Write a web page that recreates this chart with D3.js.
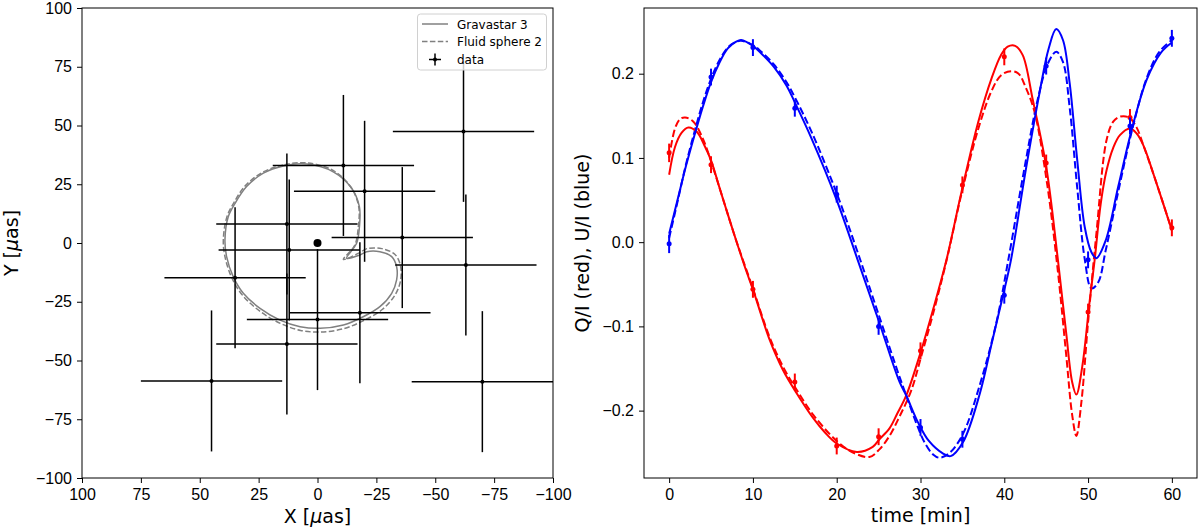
<!DOCTYPE html>
<meta charset="utf-8">
<style>
body { margin: 0; background: #fff; }
svg { font-family: "DejaVu Sans", sans-serif; }
.tick text { font-size: 16px; fill: #000; }
.tick line { stroke: #000; }
.axis-label { font-size: 19px; fill: #000; }
.legend text { font-size: 12px; fill: #000; }
</style>
<body>
<svg id="chart" width="1200" height="529"></svg>
<script src="https://cdn.jsdelivr.net/npm/d3@7"></script>
<script>

// ---- left panel: image centroid positions (x, y, xerr, yerr) in uas
var posX    = [-62, -63, -11, -20, -36, 13, 12, 13, 35, 45, 0, -18, -70];
var posY    = [47.5, -9.4, 33, 22, 2.3, 8.1, -3, -43, -14.8, -58.7, -32.6, -29.7, -59];
var posXerr = [30, 30, 30, 30, 30, 30, 30, 30, 30, 30, 30, 30, 30];
var posYerr = [30, 30, 30, 30, 30, 30, 30, 30, 30, 30, 30, 30, 30];

// model orbits (x, y) in uas
var gravOrbit = [
  [4.6, 33.6], [14.5, 32.8], [23.0, 29.7], [30.1, 24.0], [35.0, 16.9], [37.9, 11.2],
  [39.3, 1.3], [38.6, -5.8], [35.8, -14.3], [31.5, -21.4], [24.4, -27.8], [15.9, -32.8],
  [7.4, -35.6], [-1.1, -36.3], [-11.0, -34.9], [-19.4, -31.4], [-26.5, -27.1], [-31.5, -21.4],
  [-33.6, -15.7], [-33.6, -10.1], [-31.5, -5.8], [-26.5, -3.7], [-20.9, -3.7], [-18.0, -5.1],
  [-12.4, -6.5], [-16.6, -0.1], [-17.8, 6.9], [-17.8, 15.4], [-14.5, 23.3], [-6.7, 30.3]
];
var fluidOrbit = [
  [4.6, 34.1], [14.5, 33.2], [23.5, 30.0], [30.8, 24.2], [35.6, 17.0], [38.5, 11.0],
  [40.0, 1.0], [39.2, -6.2], [36.3, -15.0], [31.8, -22.3], [24.5, -29.0], [15.8, -34.2],
  [7.2, -37.2], [-1.2, -37.9], [-11.3, -36.4], [-20.0, -32.8], [-27.6, -28.2], [-33.0, -22.0],
  [-35.3, -15.8], [-35.2, -9.5], [-32.8, -4.8], [-27.3, -2.4], [-21.0, -2.4], [-17.5, -4.3],
  [-11.0, -7.0], [-15.8, -1.0], [-17.3, 6.5], [-17.5, 15.5], [-14.3, 23.6], [-6.8, 30.8]
];

// ---- right panel: polarization fractions vs time [min]
var dataT = [0, 5, 10, 15, 20, 25, 30, 35, 40, 45, 50, 55, 60];
var dataQ = [0.106, 0.092, -0.056, -0.166, -0.242, -0.231, -0.129, 0.068, 0.220, 0.094, -0.083, 0.148, 0.017];
var dataU = [-0.002, 0.196, 0.231, 0.159, 0.057, -0.100, -0.220, -0.234, -0.063, 0.209, -0.021, 0.138, 0.242];
var dataErr = [0.011, 0.01, 0.01, 0.01, 0.01, 0.01, 0.01, 0.01, 0.01, 0.01, 0.01, 0.01, 0.01];

var qGrav = [
  [0, 0.080], [0.7, 0.113], [1.5, 0.130], [2.3, 0.136], [3.3, 0.131], [4.2, 0.115], [5, 0.097],
  [6, 0.065], [7.1, 0.030], [8, 0.002], [9.2, -0.034], [10, -0.056], [12, -0.116], [13.6, -0.152],
  [15.2, -0.179], [17.2, -0.209], [18.6, -0.226], [20, -0.239], [22.4, -0.249], [24.3, -0.243],
  [25.1, -0.234], [26.3, -0.221], [27.2, -0.204], [28.3, -0.182], [30.1, -0.128], [31.5, -0.080],
  [33.1, -0.021], [34.9, 0.060], [36.9, 0.143], [38.5, 0.195], [39.6, 0.222], [40.4, 0.232],
  [41.3, 0.233], [42.2, 0.222], [43.4, 0.169], [45.0, 0.090], [46.4, -0.021], [47.4, -0.109],
  [48.1, -0.166], [48.6, -0.181], [49.3, -0.148], [50.2, -0.069], [50.8, -0.020], [51.5, 0.045],
  [52.2, 0.085], [53.0, 0.112], [53.8, 0.127], [55.0, 0.135], [55.8, 0.129], [56.6, 0.115],
  [57.9, 0.078], [60, 0.014]
];
var qFluid = [
  [0, 0.100], [0.7, 0.135], [1.3, 0.146], [1.9, 0.148], [2.9, 0.143], [4.1, 0.121], [5, 0.096],
  [6, 0.065], [7.1, 0.030], [8, 0.002], [10, -0.055], [12, -0.113], [13.6, -0.148], [15.2, -0.175],
  [17.2, -0.205], [20, -0.236], [22, -0.250], [23.9, -0.255], [25.1, -0.246], [26.3, -0.230],
  [27.5, -0.207], [28.9, -0.176], [30.1, -0.135], [31.5, -0.085], [33.1, -0.022], [35, 0.062],
  [37, 0.138], [38.5, 0.180], [39.6, 0.198], [40.8, 0.203], [41.7, 0.200], [42.5, 0.185],
  [43.6, 0.155], [45.1, 0.070], [46.4, -0.035], [47.4, -0.135], [48.1, -0.205], [48.6, -0.230],
  [49.2, -0.190], [50, -0.095], [51, 0.011], [52.2, 0.121], [53.0, 0.143], [53.8, 0.149],
  [54.9, 0.148], [55.8, 0.136], [56.6, 0.115], [57.9, 0.078], [60, 0.014]
];
var uGrav = [
  [0, 0.010], [1, 0.050], [2, 0.090], [3, 0.126], [4, 0.160], [5, 0.190], [6, 0.213], [7, 0.230],
  [8, 0.238], [8.6, 0.240], [10, 0.233], [11, 0.224], [12.5, 0.208], [14, 0.186], [15, 0.166],
  [17, 0.123], [20, 0.050], [22.5, -0.021], [25, -0.093], [27.5, -0.166], [28.3, -0.182],
  [29.7, -0.214], [31, -0.236], [32.7, -0.251], [33.6, -0.254], [35.1, -0.237], [37.1, -0.179],
  [38.5, -0.120], [39.9, -0.061], [40.8, -0.021], [42.5, 0.082], [44.2, 0.177], [45.3, 0.230],
  [46.2, 0.253], [47, 0.240], [47.8, 0.189], [48.7, 0.098], [49.6, 0.018], [50.4, -0.012],
  [51, -0.019], [52.1, 0.002], [53.6, 0.066], [55.3, 0.137], [57, 0.193], [58.7, 0.225], [60, 0.237]
];
var uFluid = [
  [0, 0.005], [1, 0.048], [2, 0.092], [3, 0.130], [4, 0.165], [5, 0.194], [6, 0.216], [7, 0.231],
  [8, 0.238], [8.6, 0.239], [10, 0.234], [11, 0.226], [12.5, 0.211], [14, 0.190], [15, 0.172],
  [17, 0.131], [20, 0.058], [22.5, -0.012], [25, -0.086], [27.5, -0.160], [28.3, -0.182],
  [29.5, -0.215], [30.5, -0.238], [31.5, -0.252], [32.3, -0.256], [33.5, -0.250], [35.1, -0.227],
  [37, -0.172], [39, -0.098], [40.5, -0.020], [42.3, 0.082], [44, 0.170], [45.2, 0.212],
  [46.2, 0.226], [47, 0.214], [47.8, 0.160], [48.7, 0.065], [49.6, -0.020], [50.4, -0.055],
  [51.2, -0.048], [52.1, -0.010], [53.6, 0.060], [55.3, 0.135], [57, 0.195], [58.5, 0.226], [60, 0.240]
];

var ticksPos = [100, 75, 50, 25, 0, -25, -50, -75, -100];
var ticksTime = [0, 10, 20, 30, 40, 50, 60];
var ticksPol = [-0.2, -0.1, 0.0, 0.1, 0.2];

var svg = d3.select("#chart");
var minus = function(s) { return s.replace("-", "\u2212"); };

/* left panel */
var xL = d3.scaleLinear().domain([100, -100]).range([82, 553]);
var yL = d3.scaleLinear().domain([-100, 100]).range([478, 8]);

svg.append("clipPath").attr("id", "clipL")
  .append("rect").attr("x", 82).attr("y", 8).attr("width", 471).attr("height", 470);

var left = svg.append("g").attr("clip-path", "url(#clipL)");

var orbitLine = d3.line()
    .x(function(d) { return xL(d[0]); })
    .y(function(d) { return yL(d[1]); })
    .curve(d3.curveCatmullRomClosed.alpha(0.5));

left.append("path")
    .attr("d", orbitLine(fluidOrbit))
    .attr("fill", "none")
    .attr("stroke", "#808080")
    .attr("stroke-width", 1.5)
    .attr("stroke-dasharray", "5.5,2.4");

left.append("path")
    .attr("d", orbitLine(gravOrbit))
    .attr("fill", "none")
    .attr("stroke", "#808080")
    .attr("stroke-width", 1.5);

var pts = d3.range(posX.length);
var eb = left.selectAll(".pos").data(pts).enter().append("g").attr("class", "pos");
eb.append("line")
    .attr("x1", function(i) { return xL(posX[i] + posXerr[i]); })
    .attr("x2", function(i) { return xL(posX[i] - posXerr[i]); })
    .attr("y1", function(i) { return yL(posY[i]); })
    .attr("y2", function(i) { return yL(posY[i]); })
    .attr("stroke", "#000").attr("stroke-width", 1.5);
eb.append("line")
    .attr("x1", function(i) { return xL(posX[i]); })
    .attr("x2", function(i) { return xL(posX[i]); })
    .attr("y1", function(i) { return yL(posY[i] + posYerr[i]); })
    .attr("y2", function(i) { return yL(posY[i] - posYerr[i]); })
    .attr("stroke", "#000").attr("stroke-width", 1.5);
eb.append("circle")
    .attr("cx", function(i) { return xL(posX[i]); })
    .attr("cy", function(i) { return yL(posY[i]); })
    .attr("r", 2).attr("fill", "#000");

// black hole position
left.append("circle").attr("cx", xL(0)).attr("cy", yL(0)).attr("r", 4).attr("fill", "#000");

svg.append("g").attr("transform", "translate(0,478)")
    .call(d3.axisBottom(xL).tickValues(ticksPos).tickSize(5).tickPadding(5.5)
      .tickFormat(function(d) { return minus(d3.format("d")(d)); }));
svg.append("g").attr("transform", "translate(82,0)")
    .call(d3.axisLeft(yL).tickValues(ticksPos).tickSize(5).tickPadding(5)
      .tickFormat(function(d) { return minus(d3.format("d")(d)); }));

svg.append("rect").attr("x", 82).attr("y", 8).attr("width", 471).attr("height", 470)
    .attr("fill", "none").attr("stroke", "#000").attr("stroke-width", 1);

svg.append("text").attr("class", "axis-label")
    .attr("x", 317.5).attr("y", 523).attr("text-anchor", "middle")
    .html("X [<tspan font-style='italic'>\u03bc</tspan>as]");
svg.append("text").attr("class", "axis-label")
    .attr("transform", "translate(18,243) rotate(-90)").attr("text-anchor", "middle")
    .html("Y [<tspan font-style='italic'>\u03bc</tspan>as]");

// legend
var lg = svg.append("g").attr("class", "legend");
lg.append("rect").attr("x", 417.5).attr("y", 14).attr("width", 129).attr("height", 56)
    .attr("rx", 3).attr("fill", "#fff").attr("fill-opacity", 0.8)
    .attr("stroke", "#d0d0d0").attr("stroke-width", 1);
lg.append("line").attr("x1", 422).attr("x2", 448).attr("y1", 24).attr("y2", 24)
    .attr("stroke", "#808080").attr("stroke-width", 1.5);
lg.append("line").attr("x1", 422).attr("x2", 448).attr("y1", 41.5).attr("y2", 41.5)
    .attr("stroke", "#808080").attr("stroke-width", 1.5).attr("stroke-dasharray", "5.5,2.4");
lg.append("line").attr("x1", 429).attr("x2", 441).attr("y1", 59.5).attr("y2", 59.5)
    .attr("stroke", "#000").attr("stroke-width", 1.5);
lg.append("line").attr("x1", 435).attr("x2", 435).attr("y1", 53.5).attr("y2", 65.5)
    .attr("stroke", "#000").attr("stroke-width", 1.5);
lg.append("circle").attr("cx", 435).attr("cy", 59.5).attr("r", 2).attr("fill", "#000");
var legendNames = ["Gravastar 3", "Fluid sphere 2", "data"];
lg.selectAll("text.lt").data(legendNames).enter().append("text").attr("class", "lt")
    .attr("x", 457).attr("y", function(d, i) { return 28.5 + i * 17.7; })
    .text(function(d) { return d; });

/* right panel */
var xR = d3.scaleLinear().domain([-3, 63]).range([644, 1197]);
var yR = d3.scaleLinear().domain([-0.28, 0.278]).range([478, 8]);

svg.append("clipPath").attr("id", "clipR")
  .append("rect").attr("x", 644).attr("y", 8).attr("width", 553).attr("height", 470);
var right = svg.append("g").attr("clip-path", "url(#clipR)");

var polLine = d3.line()
    .x(function(d) { return xR(d[0]); })
    .y(function(d) { return yR(d[1]); })
    .curve(d3.curveCatmullRom.alpha(0.5));

var series = [
  { pts: qFluid, color: "#ff0000", dash: "7.4,3.2" },
  { pts: uFluid, color: "#0000ff", dash: "7.4,3.2" },
  { pts: qGrav, color: "#ff0000", dash: null },
  { pts: uGrav, color: "#0000ff", dash: null }
];
series.forEach(function(s) {
  right.append("path")
      .attr("d", polLine(s.pts))
      .attr("fill", "none")
      .attr("stroke", s.color)
      .attr("stroke-width", 2)
      .attr("stroke-dasharray", s.dash);
});

[[dataQ, "#ff0000"], [dataU, "#0000ff"]].forEach(function(pair) {
  var vals = pair[0], col = pair[1];
  var g = right.append("g");
  g.selectAll("line").data(dataT).enter().append("line")
      .attr("x1", function(t) { return xR(t); })
      .attr("x2", function(t) { return xR(t); })
      .attr("y1", function(t, i) { return yR(vals[i] + dataErr[i]); })
      .attr("y2", function(t, i) { return yR(vals[i] - dataErr[i]); })
      .attr("stroke", col).attr("stroke-width", 2);
  g.selectAll("circle").data(dataT).enter().append("circle")
      .attr("cx", function(t) { return xR(t); })
      .attr("cy", function(t, i) { return yR(vals[i]); })
      .attr("r", 2.5).attr("fill", col);
});

svg.append("g").attr("transform", "translate(0,478)")
    .call(d3.axisBottom(xR).tickValues(ticksTime).tickSize(5).tickPadding(5.5));
svg.append("g").attr("transform", "translate(644,0)")
    .call(d3.axisLeft(yR).tickValues(ticksPol).tickSize(5).tickPadding(5)
      .tickFormat(function(d) { return minus(d3.format(".1f")(d)); }));

svg.append("rect").attr("x", 644).attr("y", 8).attr("width", 553).attr("height", 470)
    .attr("fill", "none").attr("stroke", "#000").attr("stroke-width", 1);

svg.append("text").attr("class", "axis-label")
    .attr("x", 920.5).attr("y", 522).attr("text-anchor", "middle")
    .text("time [min]");
svg.append("text").attr("class", "axis-label")
    .attr("transform", "translate(589,243) rotate(-90)").attr("text-anchor", "middle")
    .text("Q/I (red), U/I (blue)");

svg.selectAll(".domain").remove();
</script>
</body>
